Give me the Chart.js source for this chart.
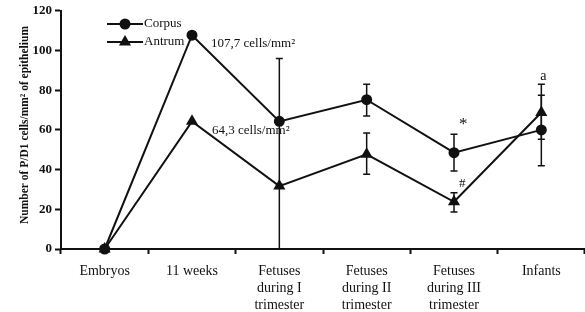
<!DOCTYPE html>
<html>
<head>
<meta charset="utf-8">
<script src="https://cdn.jsdelivr.net/npm/chart.js@4.4.1/dist/chart.umd.min.js"></script>
<style>
html,body{margin:0;padding:0;background:#fff;overflow:hidden;}
#wrap{width:585px;height:312px;}
</style>
</head>
<body>
<div id="wrap"><canvas id="c" width="585" height="312"></canvas></div>
<script>
const categories = [["Embryos"], ["11 weeks"], ["Fetuses", "during I", "trimester"], ["Fetuses", "during II", "trimester"], ["Fetuses", "during III", "trimester"], ["Infants"]];
const corpus = [0, 107.7, 64.3, 75.2, 48.5, 60.0];
const antrum = [0, 64.3, 31.7, 47.7, 23.8, 68.8];
const corpusHigh = [null, null, 96, 83, 57.8, 83];
const corpusLow  = [null, null, 32.6, 67, 39.3, 42.0];
const antrumHigh = [null, null, 31.7, 58.4, 28.3, 77.4];
const antrumLow  = [null, null, 0, 37.7, 18.6, 55.3];
const yTicks = [0, 20, 40, 60, 80, 100, 120];
const seriesNames = ["Corpus", "Antrum"];
const yTitle = "Number of P/D1 cells/mm\u00B2 of epithelium";
const notes = [
  {series: 0, index: 1, text: "107,7 cells/mm\u00B2", dx: 19, dy: 8, size: 13},
  {series: 1, index: 1, text: "64,3 cells/mm\u00B2", dx: 20, dy: 9, size: 13},
  {series: 0, index: 4, text: "*", dx: 5, dy: -28, size: 17},
  {series: 1, index: 4, text: "#", dx: 5, dy: -18, size: 13},
  {series: 0, index: 5, text: "a", dx: -1, dy: -54, size: 14}
];

const FONT = "'Liberation Serif', 'Times New Roman', serif";
const INK = '#111';

const errorBars = {
  id: 'errorBars',
  afterDatasetsDraw(chart) {
    const ctx = chart.ctx, x = chart.scales.x, y = chart.scales.y;
    const sets = [[corpusHigh, corpusLow], [antrumHigh, antrumLow]];
    ctx.save();
    ctx.strokeStyle = INK; ctx.lineWidth = 1.5;
    sets.forEach(([hi, lo]) => {
      hi.forEach((h, i) => {
        if (h === null) return;
        const px = x.getPixelForValue(i);
        const py1 = y.getPixelForValue(h), py2 = y.getPixelForValue(lo[i]);
        ctx.beginPath();
        ctx.moveTo(px, py1); ctx.lineTo(px, py2);
        ctx.moveTo(px - 3.5, py1); ctx.lineTo(px + 3.5, py1);
        ctx.moveTo(px - 3.5, py2); ctx.lineTo(px + 3.5, py2);
        ctx.stroke();
      });
    });
    ctx.restore();
  },
  afterDraw(chart) {
    const ctx = chart.ctx, x = chart.scales.x, y = chart.scales.y;
    const vals = [corpus, antrum];
    ctx.save();
    ctx.fillStyle = INK;
    ctx.textBaseline = 'middle';
    notes.forEach(n => {
      ctx.font = n.size + 'px ' + FONT;
      const px = x.getPixelForValue(n.index) + n.dx;
      const py = y.getPixelForValue(vals[n.series][n.index]) + n.dy;
      ctx.textAlign = 'left';
      ctx.fillText(n.text, px, py);
    });
    // legend
    ctx.font = '13px ' + FONT;
    const styles = ['circle', 'triangle'];
    const lx = 107, rows = [24, 42];
    seriesNames.forEach((name, i) => {
      const ly = rows[i];
      ctx.strokeStyle = INK; ctx.lineWidth = 2;
      ctx.beginPath(); ctx.moveTo(lx, ly); ctx.lineTo(lx + 36, ly); ctx.stroke();
      Chart.helpers.drawPoint(ctx, {pointStyle: styles[i], radius: i ? 5 : 4.5, rotation: 0, borderWidth: 1}, lx + 18, ly);
      ctx.fill();
      ctx.textAlign = 'left';
      ctx.fillText(name, lx + 37, ly);
    });
    // y axis title
    ctx.save();
    ctx.translate(25, 125);
    ctx.rotate(-Math.PI / 2);
    ctx.font = 'bold 11.5px ' + FONT;
    ctx.textAlign = 'center';
    ctx.fillText(yTitle, 0, 0);
    ctx.restore();
    ctx.restore();
  }
};

new Chart(document.getElementById('c'), {
  type: 'line',
  data: {
    labels: categories,
    datasets: [
      {label: seriesNames[0], data: corpus, borderColor: INK, backgroundColor: INK, borderWidth: 2,
       pointStyle: 'circle', pointRadius: 4.5, pointBackgroundColor: INK, pointBorderColor: INK, tension: 0, clip: false},
      {label: seriesNames[1], data: antrum, borderColor: INK, backgroundColor: INK, borderWidth: 2,
       pointStyle: 'triangle', pointRadius: 5, pointBackgroundColor: INK, pointBorderColor: INK, tension: 0, clip: false}
    ]
  },
  options: {
    responsive: false,
    animation: false,
    layout: {autoPadding: false, padding: {top: 10, right: -4, left: 0, bottom: 0}},
    plugins: {legend: {display: false}, tooltip: {enabled: false}},
    scales: {
      x: {
        offset: true,
        grid: {display: true, drawOnChartArea: false, offset: true, color: INK, tickLength: 5, tickWidth: 2},
        border: {display: true, color: INK, width: 2},
        ticks: {color: INK, font: {family: FONT, size: 14}, padding: 9, maxRotation: 0, autoSkip: false},
        afterFit(s) { s.height = 63; }
      },
      y: {
        min: 0, max: 120,
        afterBuildTicks(s) { s.ticks = yTicks.map(v => ({value: v})); },
        grid: {display: true, drawOnChartArea: false, color: INK, tickLength: 6, tickWidth: 2},
        border: {display: true, color: INK, width: 2},
        ticks: {color: INK, font: {family: FONT, size: 13, weight: 'bold'}, padding: 3},
        afterFit(s) { s.width = 61; }
      }
    }
  },
  plugins: [errorBars]
});
</script>
</body>
</html>
